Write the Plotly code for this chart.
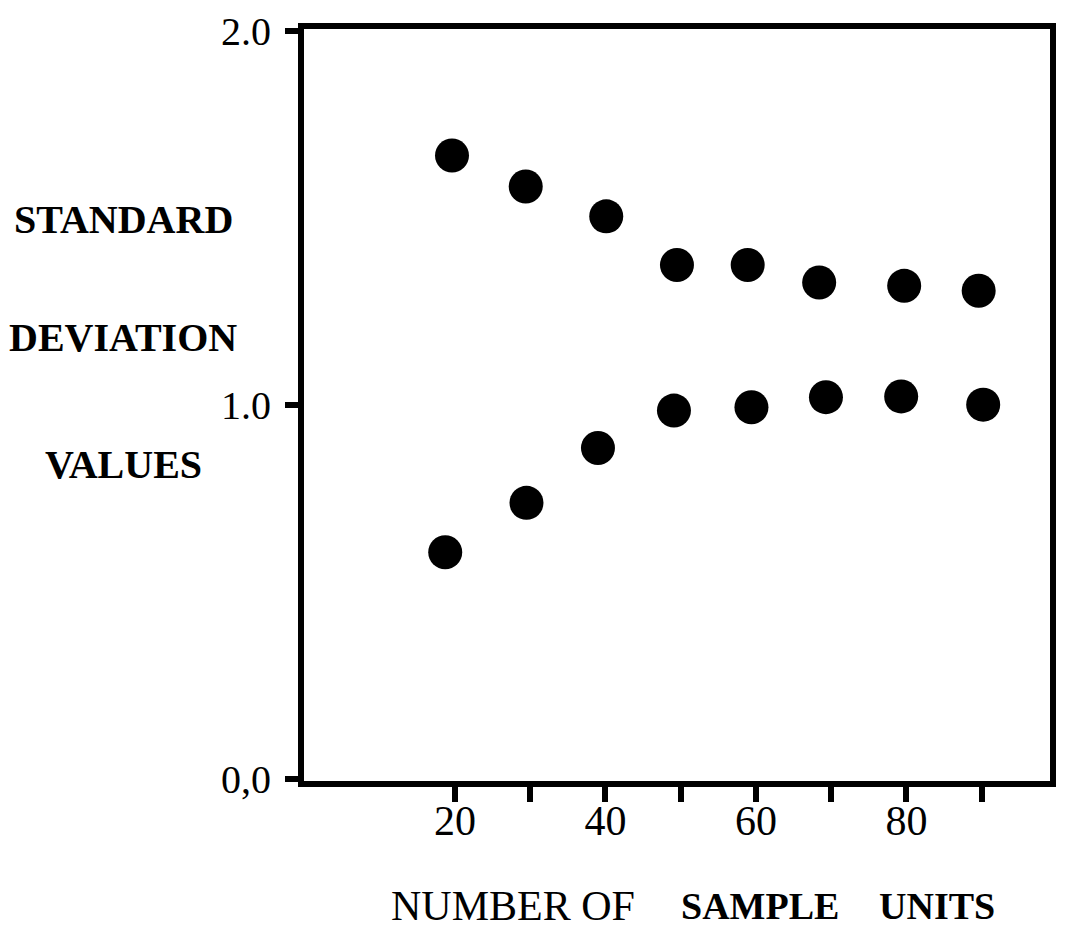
import plotly.graph_objects as go

# Upper series
upper_x = [19.6, 29.4, 40.1, 49.5, 58.9, 68.4, 79.7, 89.6]
upper_y = [1.668, 1.585, 1.505, 1.375, 1.375, 1.328, 1.319, 1.306]
# Lower series
lower_x = [18.7, 29.5, 39.0, 49.1, 59.4, 69.3, 79.3, 90.2]
lower_y = [0.606, 0.738, 0.885, 0.985, 0.994, 1.021, 1.023, 1.001]

x_tickvals = [20, 30, 40, 50, 60, 70, 80, 90]
x_ticktext = ["20", "", "40", "", "60", "", "80", ""]
y_tickvals = [0, 1, 2]
y_ticktext = ["0,0", "1.0", "2.0"]
y_title_lines = ["STANDARD", "DEVIATION", "VALUES"]
y_title_pos = [1.496, 1.182, 0.842]
x_title_words = ["NUMBER OF", "SAMPLE", "UNITS"]
x_title_pos = [0.2808, 0.6106, 0.8479]
x_title_bold = [False, True, True]
x_title_size = [42, 38, 38]

fig = go.Figure()
for xs, ys in [(upper_x, upper_y), (lower_x, lower_y)]:
    fig.add_trace(go.Scatter(
        x=xs, y=ys, mode="markers",
        marker=dict(size=34, color="black", line=dict(width=0)),
        showlegend=False, cliponaxis=False, hoverinfo="x+y",
    ))

serif = "Liberation Serif"
fig.update_layout(
    width=1070, height=937,
    margin=dict(l=296, r=28, t=21, b=164, autoexpand=False),
    paper_bgcolor="white", plot_bgcolor="white",
    font=dict(family=serif, color="black"),
)
fig.update_xaxes(
    range=[-0.07, 99.08], showgrid=False, zeroline=False, automargin=False,
    showline=True, linewidth=6, linecolor="black", mirror=True,
    ticks="outside", ticklen=15, tickwidth=6, tickcolor="black",
    tickvals=x_tickvals, ticktext=x_ticktext, ticklabelstandoff=-17,
    tickfont=dict(family=serif, size=42, color="black"),
)
fig.update_yaxes(
    range=[-0.0066, 2.0066], showgrid=False, zeroline=False, automargin=False,
    showline=True, linewidth=6, linecolor="black", mirror=True,
    ticks="outside", ticklen=13, tickwidth=6, tickcolor="black",
    tickvals=y_tickvals, ticktext=y_ticktext, ticklabelstandoff=6,
    tickfont=dict(family=serif, size=40, color="black"),
)
for txt, yv in zip(y_title_lines, y_title_pos):
    fig.add_annotation(
        text="<b>" + txt + "</b>", xref="paper", yref="y",
        x=-0.242, y=yv, xanchor="center", yanchor="middle",
        showarrow=False, font=dict(family=serif, size=40, color="black"),
    )
for txt, xv, bold, sz in zip(x_title_words, x_title_pos, x_title_bold, x_title_size):
    fig.add_annotation(
        text=("<b>" + txt + "</b>") if bold else txt,
        xref="paper", yref="paper", x=xv, y=-0.166,
        xanchor="center", yanchor="middle", showarrow=False,
        font=dict(family=serif, size=sz, color="black"),
    )
fig.write_html("out.html")
